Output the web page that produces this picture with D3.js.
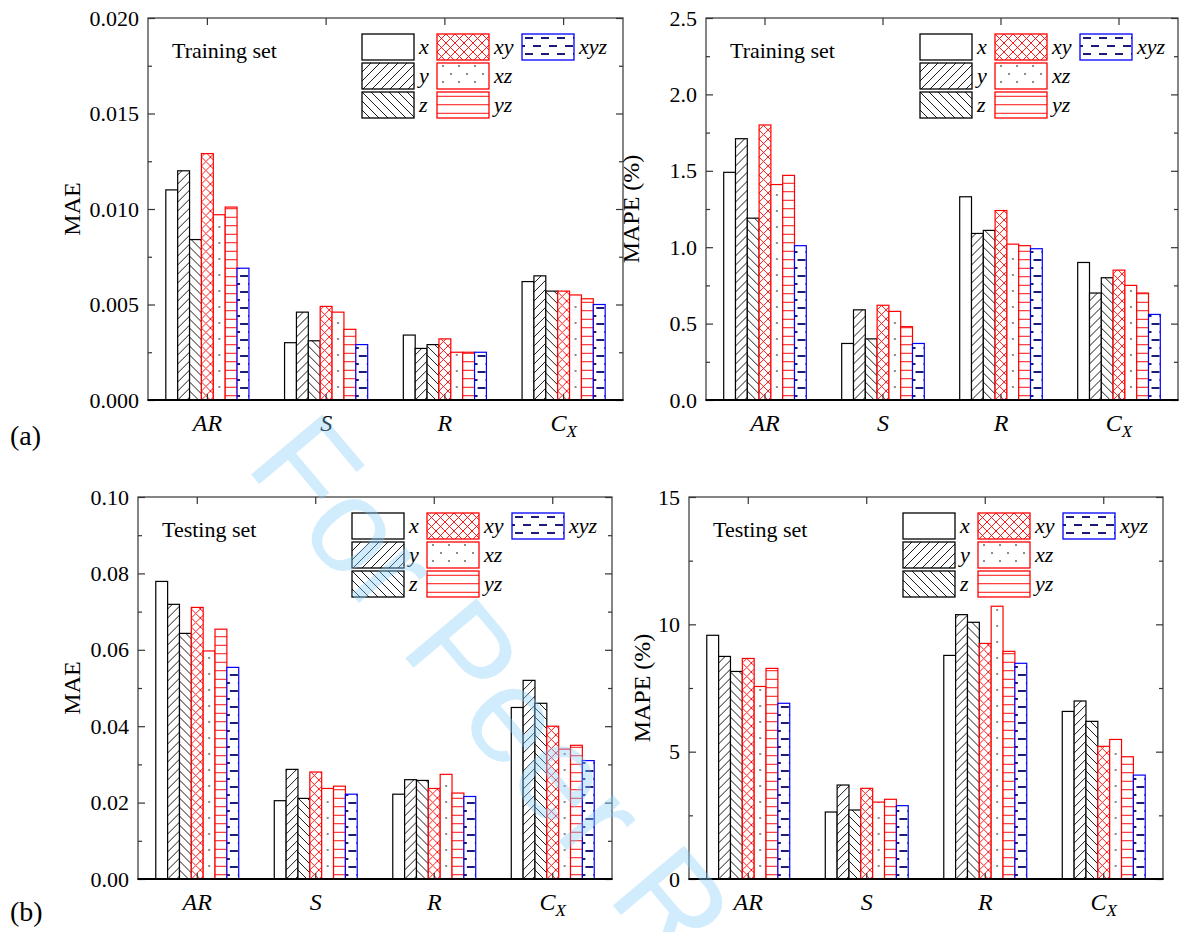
<!DOCTYPE html>
<html lang="en">
<head>
<meta charset="UTF-8">
<title>MAE and MAPE of training and testing sets</title>
<script src="https://d3js.org/d3.v7.min.js"></script>
<style>
  body { margin: 0; background: #fff; }
  svg { display: block; }
</style>
</head>
<body>
<div id="chart"></div>
<script>
const categories = ["AR", "S", "R", "CX"];
const seriesNames = ["x", "y", "z", "xy", "xz", "yz", "xyz"];

// one row per category, columns follow seriesNames
const trainMAE = [
  [0.0110, 0.0120, 0.0084, 0.0129, 0.0097, 0.0101, 0.0069],
  [0.0030, 0.0046, 0.0031, 0.0049, 0.0046, 0.0037, 0.0029],
  [0.0034, 0.0027, 0.0029, 0.0032, 0.0025, 0.0025, 0.0025],
  [0.0062, 0.0065, 0.0057, 0.0057, 0.0055, 0.0053, 0.0050]
];
const trainMAPE = [
  [1.49, 1.71, 1.19, 1.80, 1.41, 1.47, 1.01],
  [0.37, 0.59, 0.40, 0.62, 0.58, 0.48, 0.37],
  [1.33, 1.09, 1.11, 1.24, 1.02, 1.01, 0.99],
  [0.90, 0.70, 0.80, 0.85, 0.75, 0.70, 0.56]
];
const testMAE = [
  [0.0779, 0.0719, 0.0643, 0.0711, 0.0597, 0.0654, 0.0554],
  [0.0205, 0.0287, 0.0211, 0.0280, 0.0237, 0.0243, 0.0222],
  [0.0222, 0.0260, 0.0258, 0.0237, 0.0274, 0.0225, 0.0216],
  [0.0449, 0.0520, 0.0460, 0.0400, 0.0340, 0.0350, 0.0310]
];
const testMAPE = [
  [9.57, 8.74, 8.15, 8.66, 7.56, 8.27, 6.90],
  [2.63, 3.69, 2.71, 3.56, 3.02, 3.13, 2.88],
  [8.78, 10.38, 10.08, 9.25, 10.71, 8.94, 8.47],
  [6.58, 6.99, 6.19, 5.21, 5.48, 4.80, 4.08]
];

const maeTicks1 = [0, 0.005, 0.010, 0.015, 0.020];
const mapeTicks1 = [0, 0.5, 1.0, 1.5, 2.0, 2.5];
const maeTicks2 = [0, 0.02, 0.04, 0.06, 0.08, 0.10];
const mapeTicks2 = [0, 5, 10, 15];

const serif = "Liberation Serif, Times New Roman, serif";
const width = 1180, height = 932;
const svg = d3.select("#chart").append("svg")
  .attr("width", width).attr("height", height)
  .attr("font-family", serif);
const defs = svg.append("defs");

const red = "#ff0000", blue = "#0000ff", navy = "#1c1c78";
const outline = {x: "#000", y: "#000", z: "#000", xy: red, xz: red, yz: red, xyz: blue};
const tileSize = {y: [9, 9], z: [9, 9], xy: [9, 9], xz: [16, 16], yz: [8, 8.5], xyz: [16, 16]};

// each mark gets its own tile so the pattern starts at its left edge
let patId = 0;
function fillFor(kind, ox, oy) {
  if (kind === "x") return "#fff";
  const id = "pat" + (patId++);
  const [w, h] = tileSize[kind];
  const p = defs.append("pattern")
    .attr("id", id)
    .attr("patternUnits", "userSpaceOnUse")
    .attr("x", ox).attr("y", oy)
    .attr("width", w).attr("height", h);
  p.append("rect").attr("width", w).attr("height", h).attr("fill", "#fff");
  if (kind === "y") {
    p.append("path").attr("d", `M-1,${h + 1}L${w + 1},-1`)
      .attr("stroke", "#000").attr("stroke-width", 0.9);
  } else if (kind === "z") {
    p.append("path").attr("d", `M-1,-1L${w + 1},${h + 1}`)
      .attr("stroke", "#000").attr("stroke-width", 0.9);
  } else if (kind === "xy") {
    p.append("path").attr("d", `M-1,-1L${w + 1},${h + 1}M-1,${h + 1}L${w + 1},-1`)
      .attr("stroke", red).attr("stroke-width", 0.9);
  } else if (kind === "xz") {
    [[6, 3], [14, 11]].forEach(d => {
      p.append("circle").attr("cx", d[0]).attr("cy", d[1]).attr("r", 1.1).attr("fill", "#707070");
    });
  } else if (kind === "yz") {
    p.append("path").attr("d", `M0,${h / 2}H${w}`)
      .attr("stroke", red).attr("stroke-width", 1);
  } else if (kind === "xyz") {
    p.append("path").attr("d", "M3,4H11M11,12H17M-1,12H3")
      .attr("stroke", navy).attr("stroke-width", 2);
  }
  return `url(#${id})`;
}

const panels = [
  {left: 148, top: 18, right: 623, bottom: 400, values: trainMAE, ticks: maeTicks1, fmt: d3.format(".3f"),
   label: "MAE", labelX: 80, setName: "Training set"},
  {left: 706, top: 18, right: 1178, bottom: 400, values: trainMAPE, ticks: mapeTicks1, fmt: d3.format(".1f"),
   label: "MAPE (%)", labelX: 639, setName: "Training set"},
  {left: 138, top: 497, right: 612, bottom: 879, values: testMAE, ticks: maeTicks2, fmt: d3.format(".2f"),
   label: "MAE", labelX: 80, setName: "Testing set"},
  {left: 689, top: 497, right: 1163, bottom: 879, values: testMAPE, ticks: mapeTicks2, fmt: d3.format("d"),
   label: "MAPE (%)", labelX: 650, setName: "Testing set"}
];

panels.forEach(drawPanel);

function drawPanel(cfg) {
  const g = svg.append("g");
  const x0 = d3.scaleBand().domain(categories).range([cfg.left, cfg.right])
    .paddingInner(0.3).paddingOuter(0.15);
  const x1 = d3.scaleBand().domain(seriesNames).range([0, x0.bandwidth()]);
  const yMax = cfg.ticks[cfg.ticks.length - 1];
  const y = d3.scaleLinear().domain([0, yMax]).range([cfg.bottom, cfg.top]);
  const step = cfg.ticks[1] - cfg.ticks[0];
  const minor = d3.range(step / 2, yMax, step);

  // bars
  categories.forEach((cat, i) => {
    g.append("g").selectAll("rect")
      .data(cfg.values[i].map((v, j) => ({s: seriesNames[j], v: v})))
      .join("rect")
      .attr("x", d => x0(cat) + x1(d.s))
      .attr("y", d => y(d.v))
      .attr("width", x1.bandwidth())
      .attr("height", d => cfg.bottom - y(d.v))
      .attr("fill", d => fillFor(d.s, x0(cat) + x1(d.s), cfg.bottom))
      .attr("stroke", d => outline[d.s])
      .attr("stroke-width", 1.2);
  });

  // frame
  g.append("rect")
    .attr("x", cfg.left).attr("y", cfg.top)
    .attr("width", cfg.right - cfg.left).attr("height", cfg.bottom - cfg.top)
    .attr("fill", "none").attr("stroke", "#444").attr("stroke-width", 1.3);

  const style = sel => {
    sel.select(".domain").remove();
    sel.selectAll("line").attr("stroke", "#333").attr("stroke-width", 1.2);
    sel.attr("font-family", serif).attr("font-size", 22);
    sel.selectAll("text").attr("fill", "#000");
  };

  g.append("g").attr("transform", `translate(${cfg.left},0)`)
    .call(d3.axisLeft(y).tickValues(cfg.ticks).tickSize(-7).tickPadding(9).tickFormat(cfg.fmt))
    .call(style);
  g.append("g").attr("transform", `translate(${cfg.left},0)`)
    .call(d3.axisLeft(y).tickValues(minor).tickSize(-4).tickFormat(""))
    .call(style);
  g.append("g").attr("transform", `translate(${cfg.right},0)`)
    .call(d3.axisRight(y).tickValues(cfg.ticks).tickSize(-7).tickFormat(""))
    .call(style);
  g.append("g").attr("transform", `translate(${cfg.right},0)`)
    .call(d3.axisRight(y).tickValues(minor).tickSize(-4).tickFormat(""))
    .call(style);
  g.append("g").attr("transform", `translate(0,${cfg.top})`)
    .call(d3.axisTop(x0).tickSize(-7).tickFormat(""))
    .call(style);

  const xAxis = g.append("g").attr("transform", `translate(0,${cfg.bottom})`)
    .call(d3.axisBottom(x0).tickSize(-6).tickPadding(14))
    .call(style);
  xAxis.selectAll("text")
    .attr("font-size", 24).attr("font-style", "italic").attr("dy", "0.71em")
    .each(function(d) {
      if (d === "CX") {
        const t = d3.select(this).text("C");
        t.append("tspan").text("X").attr("font-size", 17).attr("dy", 6);
      }
    });

  g.append("line")
    .attr("x1", cfg.left - 0.5).attr("x2", cfg.right + 0.5)
    .attr("y1", cfg.bottom).attr("y2", cfg.bottom)
    .attr("stroke", "#000").attr("stroke-width", 2);

  // y label
  g.append("text")
    .attr("transform", `translate(${cfg.labelX},${(cfg.top + cfg.bottom) / 2}) rotate(-90)`)
    .attr("text-anchor", "middle").attr("font-size", 24)
    .text(cfg.label);

  g.append("text")
    .attr("x", cfg.left + 24).attr("y", cfg.top + 40)
    .attr("font-size", 22)
    .text(cfg.setName);

  // legend, three columns
  const lx = cfg.left + 214, ly = cfg.top + 16;
  const colX = [0, 75, 160];
  const cols = [["x", "y", "z"], ["xy", "xz", "yz"], ["xyz"]];
  cols.forEach((col, ci) => {
    col.forEach((s, ri) => {
      const bx = lx + colX[ci], by = ly + ri * 29;
      g.append("rect")
        .attr("x", bx).attr("y", by).attr("width", 52).attr("height", 26)
        .attr("fill", fillFor(s, bx, by))
        .attr("stroke", outline[s]).attr("stroke-width", 1.3);
      g.append("text")
        .attr("x", bx + 57).attr("y", by + 20)
        .attr("font-size", 22).attr("font-style", "italic")
        .text(s);
    });
  });
}

svg.append("text").attr("x", 10).attr("y", 445).attr("font-size", 28).text("(a)");
svg.append("text").attr("x", 10).attr("y", 921).attr("font-size", 28).text("(b)");

// watermark
svg.append("text")
  .attr("transform", "translate(244,466) rotate(50)")
  .attr("font-family", "Liberation Sans, Arial, sans-serif")
  .attr("font-size", 135)
  .attr("fill", "rgb(135,206,250)")
  .attr("fill-opacity", 0.38)
  .text("For Peer Review");
</script>
</body>
</html>
